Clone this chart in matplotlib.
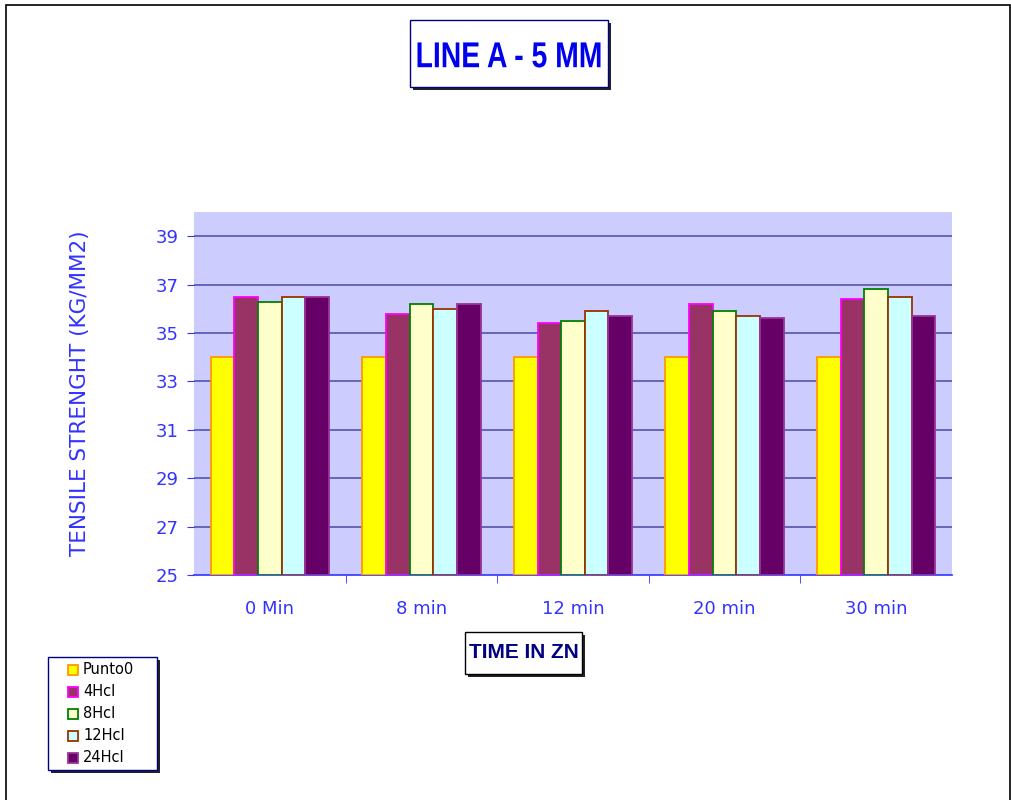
import numpy as np
import matplotlib.pyplot as plt
from matplotlib.patches import Rectangle, PathPatch
from matplotlib.textpath import TextPath
from matplotlib.font_manager import FontProperties
from matplotlib.transforms import Affine2D, IdentityTransform

# data
times = ["0 Min", "8 min", "12 min", "20 min", "30 min"]
series = ["Punto0", "4Hcl", "8Hcl", "12Hcl", "24Hcl"]
punto0 = [34.0, 34.0, 34.0, 34.0, 34.0]
hcl4 = [36.5, 35.8, 35.4, 36.2, 36.4]
hcl8 = [36.3, 36.2, 35.5, 35.9, 36.8]
hcl12 = [36.5, 36.0, 35.9, 35.7, 36.5]
hcl24 = [36.5, 36.2, 35.7, 35.6, 35.7]
yticks = [25, 27, 29, 31, 33, 35, 37, 39]

faces = ["#FFFF00", "#993366", "#FFFFCC", "#CCFFFF", "#660066"]
edges = ["#FF9900", "#FF00FF", "#008000", "#993300", "#993399"]

BLUE = "#3333FF"
W, H = 1012, 800

fig = plt.figure(figsize=(W / 100, H / 100), dpi=100)


def box(x0, y0, x1, y1, edge="black"):
    # box given in pixels from the top left, with a dark drop shadow
    fx, fy, fw, fh = x0 / W, 1 - y1 / H, (x1 - x0) / W, (y1 - y0) / H
    fig.patches.append(Rectangle((fx + 3 / W, fy - 3 / H), fw, fh, transform=fig.transFigure,
                                 facecolor="#222222", edgecolor="none", zorder=1))
    fig.patches.append(Rectangle((fx, fy), fw, fh, transform=fig.transFigure,
                                 facecolor="white", edgecolor=edge, linewidth=1.0, zorder=2))


# outer frame
fig.patches.append(Rectangle((0.006, -0.01), 0.992, 1.004, transform=fig.transFigure,
                             fill=False, edgecolor="black", linewidth=1.2))

ax = fig.add_axes([0.1917, 0.28125, 0.749, 0.45375])
ax.set_facecolor("#CCCCFF")

x = np.arange(len(times))
w = 0.156
for i, vals in enumerate([punto0, hcl4, hcl8, hcl12, hcl24]):
    vals = np.array(vals)
    ax.bar(x + (i - 2) * w, vals - 25, width=w, bottom=25, color=faces[i],
           edgecolor=edges[i], linewidth=1.3, label=series[i], zorder=3)

ax.set_xlim(-0.5, len(times) - 0.5)
ax.set_ylim(25, 40)
ax.set_yticks(yticks)
ax.set_yticklabels([str(t) for t in yticks], color=BLUE, fontsize=13)
for t in yticks[1:]:
    ax.axhline(t, color="#5555AA", linewidth=1.2, zorder=1)

ax.set_xticks(x)
ax.set_xticklabels(times, color=BLUE, fontsize=13)
ax.tick_params(axis="x", length=0, pad=18)
ax.set_xticks(np.arange(0.5, len(times) - 0.5, 1), minor=True)
ax.tick_params(axis="x", which="minor", length=6, color=BLUE)
ax.tick_params(axis="y", length=5, color=BLUE, pad=6)

for s in ["top", "right", "left"]:
    ax.spines[s].set_visible(False)
ax.spines["bottom"].set_color(BLUE)
ax.spines["bottom"].set_linewidth(1.2)

ax.set_ylabel("TENSILE STRENGHT (KG/MM2)", color=BLUE, fontsize=15.5, labelpad=47)

# title box, condensed bold text drawn as a squeezed text path
box(410, 20, 608, 87, edge="#000080")
tp = TextPath((0, 0), "LINE A - 5 MM", size=36,
              prop=FontProperties(family="Liberation Sans", weight="bold"))
ext = tp.get_extents()
sx = 183 / ext.width
tr = Affine2D().translate(-(ext.x0 + ext.width / 2), -(ext.y0 + ext.height / 2)) \
    .scale(sx, 1.0).translate(509, H - 55)
fig.patches.append(PathPatch(tp, transform=tr + IdentityTransform(), facecolor="#0000EE",
                             edgecolor="none", zorder=3))

# x axis title box
box(465, 632, 582, 674)
fig.text(523.5 / W, 1 - 653 / H, "TIME IN ZN", ha="center", va="center", color="#000080",
         fontsize=15, fontweight="bold", family="Liberation Sans", zorder=3)

# legend box
box(48, 657, 157, 770, edge="#000080")
for i, name in enumerate(series):
    yc = 670 + 22 * i
    fig.patches.append(Rectangle((68 / W, 1 - (yc + 5) / H), 10 / W, 10 / H,
                                 transform=fig.transFigure, facecolor=faces[i],
                                 edgecolor=edges[i], linewidth=1.3, zorder=3))
    fig.text(83 / W, 1 - yc / H, name, ha="left", va="center", fontsize=10.5,
             color="black", zorder=3)

fig.savefig("out.png", dpi=100)
